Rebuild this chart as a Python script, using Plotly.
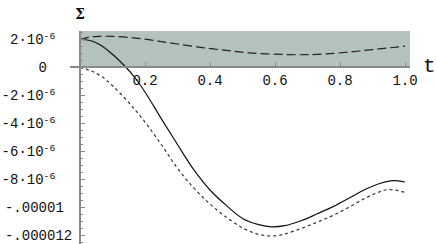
import numpy as np
import plotly.graph_objects as go

# ---- data ----
t_solid = [0, 0.03, 0.06, 0.1, 0.142, 0.17, 0.2, 0.25, 0.3, 0.35, 0.4, 0.45, 0.5, 0.55,
           0.59, 0.63, 0.68, 0.73, 0.78, 0.83, 0.88, 0.92, 0.955, 0.98, 1.0]
v_solid = [2.0, 1.93, 1.65, 0.95, 0.0, -0.75, -1.75, -3.65, -5.5, -7.3, -8.75, -9.85, -10.78, -11.22,
           -11.38, -11.3, -10.95, -10.45, -9.92, -9.3, -8.68, -8.3, -8.1, -8.1, -8.18]

t_dot = [0, 0.035, 0.07, 0.1, 0.15, 0.2, 0.25, 0.3, 0.35, 0.4, 0.45, 0.5, 0.54, 0.58,
         0.62, 0.68, 0.73, 0.78, 0.83, 0.88, 0.92, 0.94, 0.97, 1.0]
v_dot = [0.0, -0.25, -0.7, -1.3, -2.5, -3.9, -5.5, -7.2, -8.6, -9.75, -10.7, -11.45, -11.85, -12.03,
         -11.95, -11.5, -11.05, -10.55, -9.95, -9.3, -8.9, -8.75, -8.75, -8.92]

t_dash = [0, 0.03, 0.06, 0.1, 0.15, 0.2, 0.25, 0.3, 0.37, 0.45, 0.52, 0.6, 0.68, 0.75, 0.83, 0.9, 1.0]
v_dash = [2.0, 2.18, 2.23, 2.22, 2.15, 2.02, 1.85, 1.68, 1.44, 1.22, 1.05, 0.95, 0.91, 0.96, 1.11, 1.28, 1.52]

scale = 1e-6

x_tickvals = [0.2, 0.4, 0.6, 0.8, 1.0]
x_ticktext = ["0.2", "0.4", "0.6", "0.8", "1.0"]

y_tickvals = [2e-6, 0, -2e-6, -4e-6, -6e-6, -8e-6, -1e-5, -1.2e-5]
nb = "\u00a0"
y_ticktext = ["2\u00b710<sup>-6</sup>" + nb * 2,
              "0" + nb * 3,
              "-2\u00b710<sup>-6</sup>" + nb * 2,
              "-4\u00b710<sup>-6</sup>" + nb * 2,
              "-6\u00b710<sup>-6</sup>" + nb * 2,
              "-8\u00b710<sup>-6</sup>" + nb * 2,
              "-.00001" + nb,
              "-.000012"]

x_range = [-0.03077, 1.01538]
y_range = [-12.607e-6, 2.607e-6]

fig = go.Figure()

fig.add_trace(go.Scatter(x=t_dash, y=np.array(v_dash) * scale, mode="lines",
                         line=dict(color="#222", width=1.2, dash="9px,4px", shape="spline")))
fig.add_trace(go.Scatter(x=t_solid, y=np.array(v_solid) * scale, mode="lines",
                         line=dict(color="#111", width=1.2, shape="spline")))
fig.add_trace(go.Scatter(x=t_dot, y=np.array(v_dot) * scale, mode="lines",
                         line=dict(color="#333", width=1.2, dash="3px,3px", shape="spline")))

# shaded band
fig.add_shape(type="rect", xref="x", yref="y", x0=0, x1=x_range[1], y0=0, y1=y_range[1],
              fillcolor="#b4c2bf", line=dict(width=0), layer="below")

xpos = (0 - y_range[0]) / (y_range[1] - y_range[0])
ypos = (0 - x_range[0]) / (x_range[1] - x_range[0])

mono = "Liberation Mono, Courier New, monospace"

fig.update_layout(
    width=436, height=244,
    margin=dict(l=70, r=26, t=31, b=0),
    paper_bgcolor="white", plot_bgcolor="white",
    showlegend=False,
    xaxis=dict(range=x_range, anchor="free", position=xpos, showgrid=False, zeroline=False,
               automargin=False,
               showline=True, linecolor="#8a8a8a", linewidth=2,
               tickmode="array", tickvals=x_tickvals, ticktext=x_ticktext,
               ticks="inside", ticklen=4, tickcolor="#8a8a8a", tickwidth=1,
               tickfont=dict(family=mono, size=14, color="#111")),
    yaxis=dict(range=y_range, anchor="free", position=ypos, showgrid=False, zeroline=False,
               automargin=False, ticklabeloverflow="allow",
               showline=True, linecolor="#8a8a8a", linewidth=2,
               tickmode="array", tickvals=y_tickvals, ticktext=y_ticktext,
               ticks="inside", ticklen=4, tickcolor="#8a8a8a", tickwidth=1,
               ticklabelstandoff=4,
               minor=dict(ticks="inside", ticklen=2, tickcolor="#8a8a8a",
                          tickvals=list(np.arange(-12.5e-6, 2.6e-6, 0.5e-6))),
               tickfont=dict(family=mono, size=14, color="#111")),
    annotations=[
        dict(text="t", xref="paper", yref="paper", x=1.0, y=xpos, xshift=19, yshift=1,
             xanchor="center", yanchor="middle",
             showarrow=False, font=dict(family=mono, size=21, color="#111")),
        dict(text="<b>\u03a3</b>", xref="paper", yref="paper", x=ypos, y=1.0, yshift=17,
             xanchor="center", yanchor="middle",
             showarrow=False, font=dict(family="DejaVu Serif, serif", size=14, color="#111")),
    ],
)

# remove the default 8px page margin so the figure fills the window exactly
fig.write_html("out.html", config={"displayModeBar": False},
               post_script="document.body.style.margin='0';")
